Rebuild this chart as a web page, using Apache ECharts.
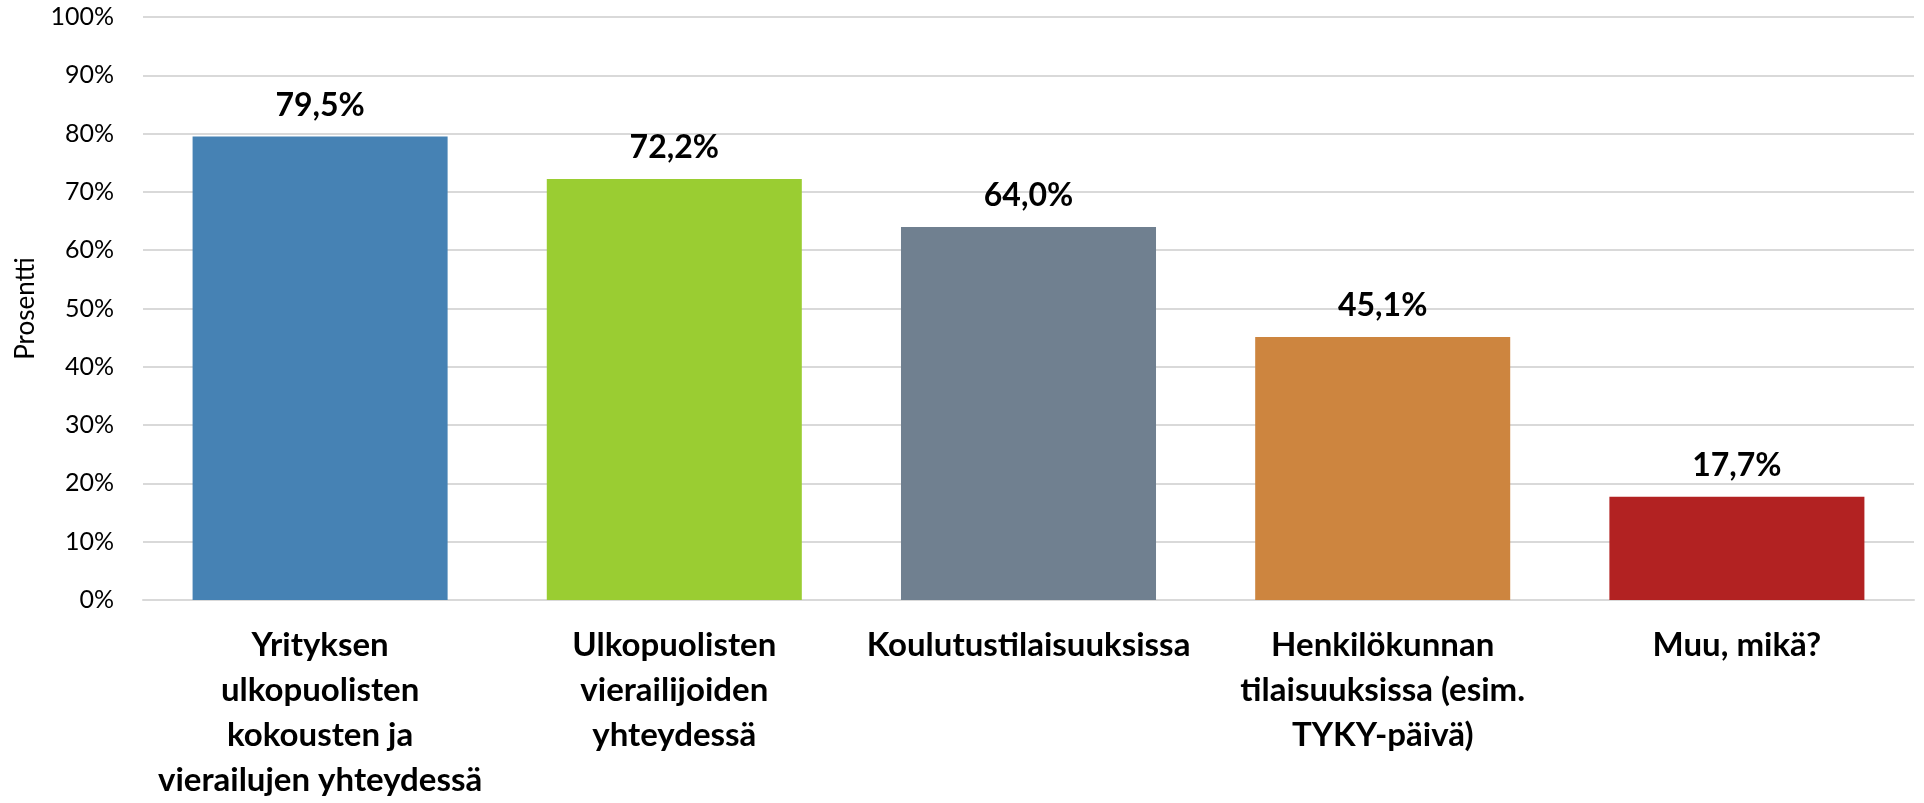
<!DOCTYPE html>
<html>
<head>
<meta charset="utf-8">
<script src="https://cdn.jsdelivr.net/npm/echarts@6/dist/echarts.min.js"></script>
<style>
  html, body { margin: 0; padding: 0; background: #fff; }
  #chart { width: 1924px; height: 803px; }
</style>
</head>
<body>
<div id="chart"></div>
<script>
const categories = [
  'Yrityksen\nulkopuolisten\nkokousten ja\nvierailujen yhteydessä',
  'Ulkopuolisten\nvierailijoiden\nyhteydessä',
  'Koulutustilaisuuksissa',
  'Henkilökunnan\ntilaisuuksissa (esim.\nTYKY-päivä)',
  'Muu, mikä?'
]
const values = [79.5, 72.2, 64.0, 45.1, 17.7]
const barColors = ['#4682B4', '#9ACD32', '#708090', '#CD853F', '#B22222']
const yTicks = [0, 10, 20, 30, 40, 50, 60, 70, 80, 90, 100]

const font = 'Lato, "Open Sans", sans-serif'

const chart = echarts.init(document.getElementById('chart'))

chart.setOption({
  animation: false,
  grid: { left: 143, right: 10, top: 17, bottom: 203 },
  xAxis: {
    type: 'category',
    data: categories,
    axisTick: { show: false },
    axisLine: { lineStyle: { color: '#d9d9d9', width: 2 } },
    axisLabel: {
      interval: 0,
      margin: 23,
      color: '#000',
      fontFamily: font,
      fontWeight: 'bold',
      fontSize: 33,
      lineHeight: 45
    }
  },
  yAxis: {
    type: 'value',
    min: yTicks[0],
    max: yTicks[yTicks.length - 1],
    interval: 10,
    name: 'Prosentti',
    nameLocation: 'middle',
    nameGap: 104,
    nameTextStyle: { color: '#000', fontFamily: font, fontSize: 26 },
    axisLine: { show: false },
    axisTick: { show: false },
    splitLine: { lineStyle: { color: '#d9d9d9', width: 2 } },
    axisLabel: {
      margin: 29,
      color: '#000',
      fontFamily: font,
      fontSize: 25,
      formatter: v => v + '%'
    }
  },
  series: [{
    type: 'bar',
    data: values.map((v, i) => ({ value: v, itemStyle: { color: barColors[i] } })),
    barWidth: '72%',
    label: {
      show: true,
      position: 'top',
      distance: 15,
      color: '#000',
      fontFamily: font,
      fontWeight: 'bold',
      fontSize: 32,
      formatter: p => p.value.toFixed(1).replace('.', ',') + '%'
    }
  }]
})
</script>
</body>
</html>
